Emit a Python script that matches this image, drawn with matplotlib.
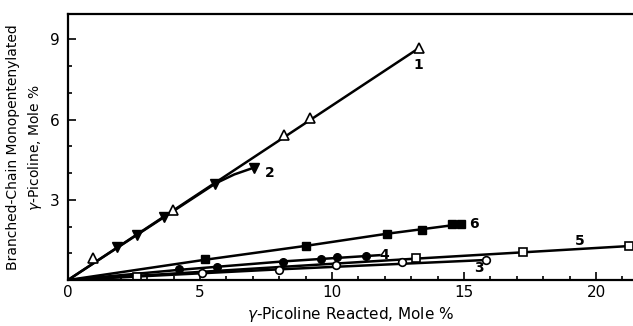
import matplotlib.pyplot as plt
from matplotlib.ticker import MultipleLocator

# measured points
s1_x = [0.94, 3.96, 8.17, 9.18, 13.3]
s1_y = [0.83, 2.61, 5.41, 6.07, 8.68]
s2_x = [1.87, 2.61, 3.62, 5.58, 7.03]
s2_y = [1.22, 1.67, 2.36, 3.58, 4.20]
s3_x = [5.07, 8.01, 10.17, 12.66, 15.85]
s3_y = [0.25, 0.37, 0.56, 0.66, 0.75]
s4_x = [4.19, 5.64, 8.15, 9.59, 10.2, 11.27]
s4_y = [0.41, 0.47, 0.68, 0.77, 0.85, 0.90]
s5_x = [2.61, 13.17, 17.22, 21.24]
s5_y = [0.12, 0.81, 1.03, 1.27]
s6_x = [5.2, 9.02, 12.07, 13.42, 14.56, 14.88]
s6_y = [0.78, 1.28, 1.74, 1.89, 2.08, 2.09]

# drawn curves
c1_x = [0, 13.3]
c1_y = [0, 8.68]
c2_x = [0, 5.6, 6.3, 7.03]
c2_y = [0, 3.62, 3.95, 4.20]
c3_x = [0, 8.0, 15.85]
c3_y = [0, 0.40, 0.75]
c4_x = [0, 4.2, 8.2, 11.8]
c4_y = [0, 0.38, 0.70, 0.93]
c5_x = [0, 13.17, 21.4]
c5_y = [0, 0.80, 1.28]
c6_x = [0, 5.2, 9.02, 12.07, 14.88]
c6_y = [0, 0.76, 1.28, 1.73, 2.09]

labels = ['1', '2', '3', '4', '5', '6']
label_pos = [(13.1, 8.05), (7.45, 4.0), (15.4, 0.45), (11.8, 0.95), (19.2, 1.45), (15.2, 2.1)]

fig = plt.figure(figsize=(6.33, 3.26), dpi=100)
ax = fig.add_axes([0.1074, 0.141, 0.8926, 0.816])

lw = 1.8
for cx, cy in [(c1_x, c1_y), (c2_x, c2_y), (c3_x, c3_y), (c4_x, c4_y), (c5_x, c5_y), (c6_x, c6_y)]:
    ax.plot(cx, cy, color='black', lw=lw)

ax.plot(s1_x, s1_y, '^', ms=7, mfc='white', mec='black', mew=1.2)
ax.plot(s2_x, s2_y, 'v', ms=7, color='black')
ax.plot(s3_x, s3_y, 'o', ms=5.5, mfc='white', mec='black', mew=1.2)
ax.plot(s4_x, s4_y, 'o', ms=5.5, color='black')
ax.plot(s5_x, s5_y, 's', ms=5.5, mfc='white', mec='black', mew=1.2)
ax.plot(s6_x, s6_y, 's', ms=5.5, color='black')

for lab, (lx, ly) in zip(labels, label_pos):
    ax.text(lx, ly, lab, fontsize=10, fontweight='bold', ha='left', va='center')

ax.set_xlim(0, 21.4)
ax.set_ylim(0, 9.95)
ax.xaxis.set_major_locator(MultipleLocator(5))
ax.xaxis.set_minor_locator(MultipleLocator(1))
ax.yaxis.set_major_locator(MultipleLocator(3))
ax.yaxis.set_minor_locator(MultipleLocator(1))
ax.tick_params(which='both', direction='in', width=1.2, labelsize=11)
ax.tick_params(which='major', length=6)
ax.tick_params(which='minor', length=3)
ax.tick_params(axis='y', pad=6)
ax.spines['right'].set_visible(False)
for s in ['left', 'bottom', 'top']:
    ax.spines[s].set_linewidth(1.6)

ax.set_yticks([3, 6, 9])
ax.set_yticklabels(['3', '6', '9'])
ax.set_xlabel('$\\gamma$-Picoline Reacted, Mole %', fontsize=11)
ax.set_ylabel('Branched-Chain Monopentenylated\n$\\gamma$-Picoline, Mole %', fontsize=10, linespacing=1.5)

plt.savefig('out.png', dpi=100)
